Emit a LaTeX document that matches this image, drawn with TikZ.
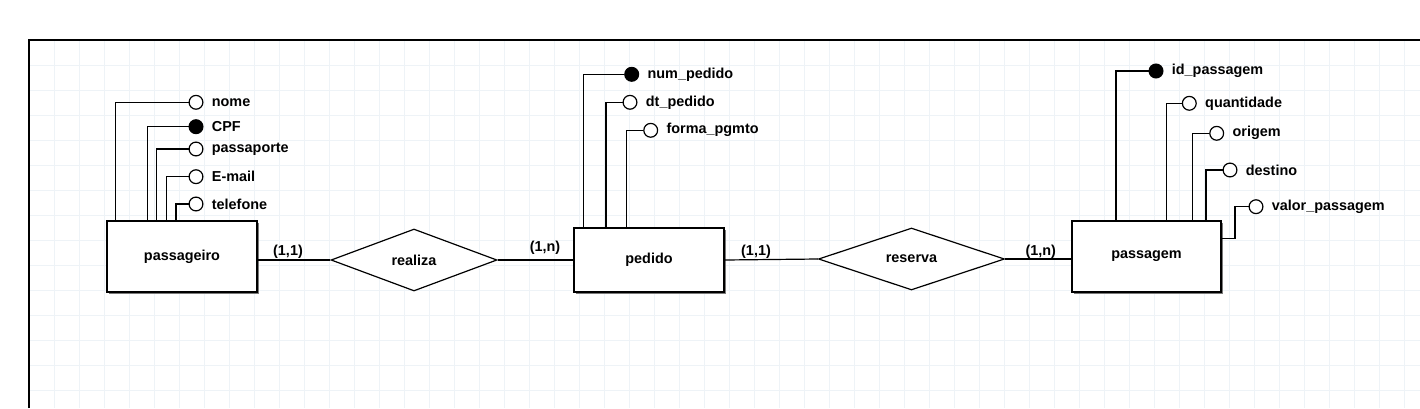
\documentclass[tikz,border=0pt]{standalone}
\usepackage{fontspec}
\setmainfont{Liberation Sans}
\usepackage{tikz}
\usetikzlibrary{positioning, shapes.geometric, shadows}
\definecolor{colorGrid}{HTML}{EEF3F7}
\definecolor{colorShadow}{HTML}{7A7A7A}

\tikzset{
    every node/.style={font=\fontsize{7.2}{8}\selectfont\bfseries},
    entity/.style={draw, line width=0.7pt, fill=white, inner sep=0pt,
        minimum width=75pt, minimum height=35.5pt,
        drop shadow={shadow xshift=1.1pt, shadow yshift=-1.1pt, fill=colorShadow, opacity=1}},
    relation/.style={diamond, draw, line width=0.6pt, fill=white, inner sep=0pt},
    attr/.style={circle, draw, line width=0.6pt, fill=white, minimum size=6.9pt, inner sep=0pt},
    keyattr/.style={attr, fill=black},
    attrname/.style={inner sep=0pt, right=4pt of #1},
    link/.style={line width=0.6pt},
    card/.style={inner sep=0pt}
}

\begin{document}
\begin{tikzpicture}[x=0.5pt, y=-0.5pt]
        \useasboundingbox (0,0) rectangle (1420,408);

        % background grid and frame
        \foreach \gx in {54,79,...,1420}
            \draw[colorGrid, line width=0.5pt] (\gx,40) -- (\gx,408);
        \foreach \gy in {65,90,...,408}
            \draw[colorGrid, line width=0.5pt] (29,\gy) -- (1420,\gy);
        \draw[line width=0.85pt] (29,408) -- (29,40) -- (1420,40);

        % entities
        \node[entity] (passageiro) at (182,256.5) {passageiro};
        \node[entity, minimum height=32pt] (pedido) at (649,260) {pedido};
        \node[entity, minimum width=74.5pt] (passagem) at (1146.5,256.5) {passagem};

        % relationships
        \node[relation, minimum width=83pt, minimum height=31pt] (realiza) at (414,260) {realiza};
        \node[relation, minimum width=93pt, minimum height=31pt] (reserva) at (911.5,259) {reserva};

        \draw[link] (realiza.west) -- (realiza.west -| passageiro.east);
        \draw[link] (realiza.east) -- (pedido.west);
        \draw[link] (pedido.east) -- (reserva.west);
        \draw[link] (reserva.east) -- (reserva.east -| passagem.west);

        \node[card] (card1) at (288,251.7) {(1,1)};
        \node[card] (card2) at (545,248) {(1,n)};
        \node[card] (card3) at (756,251.7) {(1,1)};
        \node[card] (card4) at (1040.7,251.7) {(1,n)};

        % attributes of passageiro
        \node[attr] (nome) at (196,102.3) {};
        \node[keyattr] (cpf) at (196,126.7) {};
        \node[attr] (passaporte) at (196,149) {};
        \node[attr] (email) at (196,176.7) {};
        \node[attr] (telefone) at (196,204) {};
        \node[attrname=nome] (nome-t) {nome};
        \node[attrname=cpf] (cpf-t) {CPF};
        \node[attrname=passaporte] (passaporte-t) {passaporte};
        \node[attrname=email] (email-t) {E-mail};
        \node[attrname=telefone] (telefone-t) {telefone};
        \draw[link] (nome.west) -| ([shift={(9.3,0)}]passageiro.north west);
        \draw[link] (cpf.west) -| ([shift={(41.3,0)}]passageiro.north west);
        \draw[link] (passaporte.west) -| ([shift={(50.3,0)}]passageiro.north west);
        \draw[link] (email.west) -| ([shift={(60.3,0)}]passageiro.north west);
        \draw[link] (telefone.west) -| ([shift={(69.7,0)}]passageiro.north west);

        % attributes of pedido
        \node[keyattr] (numpedido) at (631.7,74.3) {};
        \node[attr] (dtpedido) at (630,102.3) {};
        \node[attr] (formapgmto) at (650.7,130.3) {};
        \node[attrname=numpedido] (numpedido-t) {num\_pedido};
        \node[attrname=dtpedido] (dtpedido-t) {dt\_pedido};
        \node[attrname=formapgmto] (formapgmto-t) {forma\_pgmto};
        \draw[link] (numpedido.west) -| ([shift={(10.3,0)}]pedido.north west);
        \draw[link] (dtpedido.west) -| ([shift={(32.7,0)}]pedido.north west);
        \draw[link] (formapgmto.west) -| ([shift={(53.3,0)}]pedido.north west);

        % attributes of passagem
        \node[keyattr] (idpassagem) at (1156,71) {};
        \node[attr] (quantidade) at (1189.3,103.3) {};
        \node[attr] (origem) at (1216.7,133.3) {};
        \node[attr] (destino) at (1230,170) {};
        \node[attr] (valor) at (1256,206.7) {};
        \node[attrname=idpassagem] (idpassagem-t) {id\_passagem};
        \node[attrname=quantidade] (quantidade-t) {quantidade};
        \node[attrname=origem] (origem-t) {origem};
        \node[attrname=destino] (destino-t) {destino};
        \node[attrname=valor] (valor-t) {valor\_passagem};
        \draw[link] (idpassagem.west) -| ([shift={(44.7,0)}]passagem.north west);
        \draw[link] (quantidade.west) -| ([shift={(95.3,0)}]passagem.north west);
        \draw[link] (origem.west) -| ([shift={(121.3,0)}]passagem.north west);
        \draw[link] (destino.west) -| ([shift={(134.7,0)}]passagem.north west);
        \coordinate (vbend) at ([shift={(13.3,18)}]passagem.north east);
        \draw[link] (valor.west) -| (vbend) -- (vbend -| passagem.east);
    \end{tikzpicture}
\end{document}
